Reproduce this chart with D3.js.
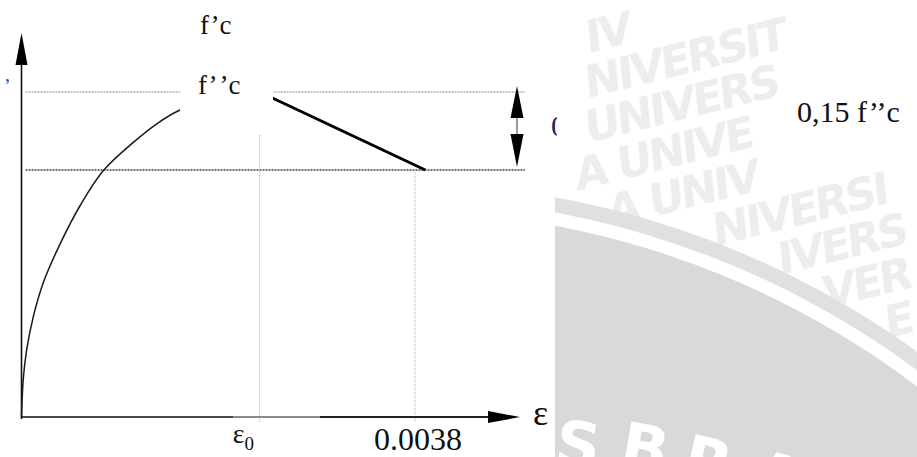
<!DOCTYPE html>
<html><head><meta charset="utf-8">
<script src="https://cdn.jsdelivr.net/npm/d3@7"></script>
<style>html,body{margin:0;padding:0;background:#fff;overflow:hidden}</style>
</head><body><svg id="c" width="917" height="457"></svg>
<script>
// ---- data (drawing is schematic, not to scale) ----
const strainTicks = [0.0023, 0.0038];
const strainTickLabels = ["ε", "0.0038"];
const ascStrain = [0, 0.0000174, 0.0000502, 0.000114, 0.000211, 0.000372, 0.000565, 0.000787, 0.00108, 0.00131, 0.00152, 0.00187, 0.0023];
const ascStress = [0, 0.118, 0.207, 0.309, 0.414, 0.532, 0.650, 0.757, 0.845, 0.903, 0.943, 0.985, 1.0];
const descStrain = [0.0023, 0.0039];
const descStress = [1.0, 0.76];
const stressLevels = [1.0, 0.76];
const guideTops = [0.868, 0.76];
const stressLabels = ["f’c", "f’’c"];
const dropLabel = "0,15 f’’c";
const axisLabel = "ε";
const watermarkWords = "UNIVERSITAS BRAWIJAYA";
const watermarkFoot = ["S", "B", "R", "A"];

const svg = d3.select("#c");
const W = 917, H = 457;
const x = d3.scaleLinear().domain([0, 0.0038]).range([21.5, 415]);
const y = d3.scaleLinear().domain([0, 1]).range([417, 92]);
const serif = '"Liberation Serif", serif';

// ---- background watermark ----
svg.append("rect").attr("width", W).attr("height", H).attr("fill", "#fff");
const sheetRight = 555;
const labelBox2 = {x: 783, y: 81, w: W - 783, h: 78};
const arc = {cx: 396, cy: 1072, r: [889, 874, 861]};

const FS = 44, DEG = -14;
const mctx = document.createElement("canvas").getContext("2d");
const wm = svg.append("g").attr("fill", "#ededed")
  .style("font-family", '"DejaVu Sans", sans-serif').attr("font-weight", "bold").attr("font-size", FS);
mctx.font = `bold ${FS}px "DejaVu Sans"`;
const ang = DEG * Math.PI / 180;
const unit = watermarkWords + " ";
const rowStr = unit.repeat(5);
const pre = mctx.measureText(unit.repeat(2)).width - 3 * unit.length * 2;
for (let r = -9; r < 9; r++) {
  const ox = 560 + r * 32, oy = 150 + r * 37;
  let adv = -pre;
  for (const ch of rowStr) {
    const w = mctx.measureText(ch).width - 3;
    if (ch !== " ") {
      wm.append("text")
        .attr("transform", `translate(${ox + adv * Math.cos(ang)},${oy + adv * Math.sin(ang)}) rotate(${DEG}) skewX(-8)`)
        .text(ch);
    }
    adv += w;
  }
}
wm.selectAll("text").each(function () {
  const b = this.getBoundingClientRect();
  const cx = (b.left + b.right) / 2, cy = (b.top + b.bottom) / 2;
  const inArc = Math.hypot(cx - arc.cx, cy - arc.cy) < arc.r[0] + 4;
  const inBox = b.right > labelBox2.x && b.bottom > labelBox2.y && b.top < labelBox2.y + labelBox2.h;
  if (b.left < sheetRight + 1 || b.right > W || b.top < 0 || b.bottom > H || inArc || inBox) this.remove();
});

svg.append("clipPath").attr("id", "arcClip").append("rect")
  .attr("x", sheetRight).attr("y", 0).attr("width", W - sheetRight).attr("height", H);
const ag = svg.append("g").attr("clip-path", "url(#arcClip)");
["#e0e0e0", "#ffffff", "#d9d9d9"].forEach((c, i) =>
  ag.append("circle").attr("cx", arc.cx).attr("cy", arc.cy).attr("r", arc.r[i]).attr("fill", c));
const footPos = [[553, 463, 8], [618, 465, 10], [680, 477, 13], [748, 491, 16]];
const sg = ag.append("g").attr("fill", "#fff")
  .style("font-family", '"DejaVu Sans", sans-serif').attr("font-weight", "bold").attr("font-size", 62);
watermarkFoot.forEach((ch, i) => sg.append("text")
  .attr("transform", `translate(${footPos[i][0]},${footPos[i][1]}) rotate(${footPos[i][2]})`).text(ch));

// ---- white chart sheet ----
svg.append("rect").attr("x", 15).attr("y", 18).attr("width", sheetRight - 15).attr("height", H - 18).attr("fill", "#fff");

// ---- guides ----
const g = svg.append("g");
stressLevels.forEach((v, i) => {
  g.append("line").attr("x1", x(0) + 4).attr("x2", x(0.0038) + 110)
    .attr("y1", y(v)).attr("y2", y(v))
    .attr("stroke", i === 0 ? "#8a8a8a" : "#444").attr("stroke-width", i === 0 ? 1 : 1.3)
    .attr("stroke-dasharray", "2,1");
});
strainTicks.forEach((s, i) => {
  g.append("line").attr("x1", x(s)).attr("x2", x(s))
    .attr("y1", y(guideTops[i])).attr("y2", y(0) + 5)
    .attr("stroke", "#b0b0b0").attr("stroke-width", 1).attr("stroke-dasharray", "1,1");
});

// ---- axes ----
const x0 = x(0), y0 = y(0);
const axEnd = x(0.0038) + 105;
g.append("line").attr("x1", x0).attr("x2", 233).attr("y1", y0).attr("y2", y0).attr("stroke", "#4a4a4a").attr("stroke-width", 2.2);
g.append("line").attr("x1", 233).attr("x2", 320).attr("y1", y0).attr("y2", y0).attr("stroke", "#8a8a8a").attr("stroke-width", 2.2);
g.append("line").attr("x1", 320).attr("x2", axEnd - 30).attr("y1", y0).attr("y2", y0).attr("stroke", "#222").attr("stroke-width", 2.2);
g.append("path").attr("d", `M${axEnd - 32},${y0 - 6}L${axEnd},${y0}L${axEnd - 32},${y0 + 6}Z`).attr("fill", "#000");
g.append("line").attr("x1", x0).attr("x2", x0).attr("y1", y0 + 2).attr("y2", 64).attr("stroke", "#111").attr("stroke-width", 1.6);
g.append("path").attr("d", `M${x0 - 6},65L${x0},33L${x0 + 6},65Z`).attr("fill", "#000");

// ---- curves ----
const asc = ascStrain.map((s, i) => [s, ascStress[i]]);
const desc = descStrain.map((s, i) => [s, descStress[i]]);
g.append("path").attr("d", d3.line().x(d => x(d[0])).y(d => y(d[1])).curve(d3.curveCatmullRom.alpha(0.5))(asc))
  .attr("fill", "none").attr("stroke", "#1a1a1a").attr("stroke-width", 1.5);
g.append("path").attr("d", d3.line().x(d => x(d[0])).y(d => y(d[1]))(desc))
  .attr("fill", "none").attr("stroke", "#000").attr("stroke-width", 3);

// double arrow showing the 0.15 drop
const ax = x(0.0038) + 102;
const yTop = y(stressLevels[0]), yBot = y(stressLevels[1]);
g.append("line").attr("x1", ax).attr("x2", ax).attr("y1", yTop + 20).attr("y2", yBot - 30)
  .attr("stroke", "#999").attr("stroke-width", 2);
g.append("path").attr("d", `M${ax},${yTop - 6}L${ax + 6.5},${yTop + 26}L${ax - 6.5},${yTop + 26}Z`).attr("fill", "#000");
g.append("path").attr("d", `M${ax},${yBot - 3}L${ax + 6.5},${yBot - 36}L${ax - 6.5},${yBot - 36}Z`).attr("fill", "#000");

// ---- tick labels ----
const tl = g.append("g").attr("fill", "#111").style("font-family", serif);
const e0 = tl.append("text").attr("x", x(strainTicks[0]) - 27).attr("y", 443).attr("font-size", 28);
e0.append("tspan").text(strainTickLabels[0]);
e0.append("tspan").attr("dy", 7).attr("font-size", 19).text("0");
tl.append("text").attr("x", x(strainTicks[1]) + 3).attr("y", 450).attr("text-anchor", "middle")
  .attr("font-size", 32).text(strainTickLabels[1]);
tl.append("text").attr("x", axEnd + 13).attr("y", 425).attr("font-size", 36).text(axisLabel);

// ---- label box (f'c, f''c) ----
svg.append("rect").attr("x", 180).attr("y", 0).attr("width", 93).attr("height", 114).attr("fill", "#fff");
const lb = svg.append("g").attr("fill", "#111").attr("font-size", 27).style("font-family", serif);
lb.append("text").attr("x", 200).attr("y", 34).text(stressLabels[0]);
const f2 = lb.append("text").attr("x", 198).attr("y", 94);
f2.append("tspan").text("f’");
f2.append("tspan").attr("dx", 4).text("’c");

// ---- 0,15 f''c label ----
svg.append("rect").attr("x", labelBox2.x).attr("y", labelBox2.y).attr("width", labelBox2.w).attr("height", labelBox2.h).attr("fill", "#fff");
svg.append("text").attr("x", 797).attr("y", 122).attr("font-size", 30).style("font-family", serif)
  .attr("fill", "#111").text(dropLabel);

// cut-off fragment at the sheet edge
svg.append("clipPath").attr("id", "frag").append("rect").attr("x", 540).attr("y", 100).attr("width", 17).attr("height", 50);
svg.append("text").attr("clip-path", "url(#frag)").attr("x", 551).attr("y", 136).style("font-family", serif)
  .attr("font-size", 30).attr("fill", "#1a2a5a").text("0");
svg.append("text").attr("x", 4).attr("y", 93).attr("font-size", 20).style("font-family", serif)
  .attr("fill", "#2a4a9a").text("’");
</script></body></html>
